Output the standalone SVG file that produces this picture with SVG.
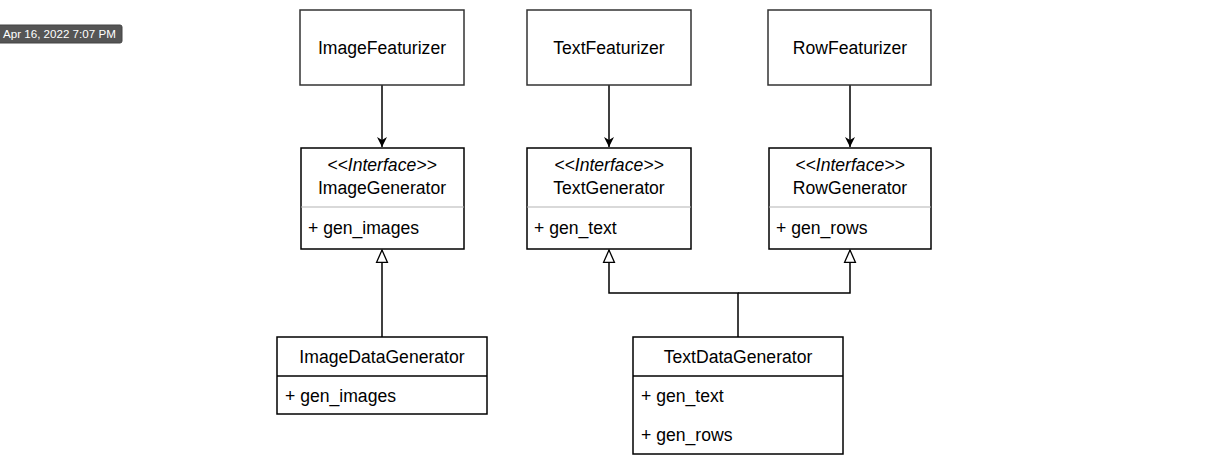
<svg xmlns="http://www.w3.org/2000/svg" width="1217" height="462" viewBox="0 0 1217 462">
<style>
.box{fill:#fff;stroke:#000;stroke-width:1.5}
.feat{fill:#fff;stroke:#333;stroke-width:1.5}
.sepg{stroke:#b3b3b3;stroke-width:1}
.sepb{stroke:#000;stroke-width:1.5}
.t{font-family:"Liberation Sans",Arial,sans-serif;font-size:17.6px;fill:#000}
.c{text-anchor:middle}
.i{font-style:italic}
.edge{fill:none;stroke:#000;stroke-width:1.5}
.badge{font-family:"Liberation Sans",Arial,sans-serif;font-size:11.6px;fill:#fff}
</style>
<defs>
<marker id="arr" markerWidth="12" markerHeight="12" refX="10" refY="5" orient="auto" markerUnits="userSpaceOnUse" viewBox="0 0 12 10">
<path d="M0,0 L10,5 L0,10 L3,5 Z" fill="#000"/>
</marker>
<marker id="tri" markerWidth="16" markerHeight="14" refX="13" refY="6" orient="auto" markerUnits="userSpaceOnUse" viewBox="0 0 16 12">
<path d="M0.5,0.5 L13,6 L0.5,11.5 Z" fill="#fff" stroke="#000" stroke-width="1.3"/>
</marker>
</defs>
<rect width="1217" height="462" fill="#fff"/>
<g id="timestamp">
<rect x="-4" y="25" width="126" height="18" rx="2" fill="#555" stroke="#444" stroke-width="1"/>
<text class="badge" x="3" y="38">Apr 16, 2022 7:07 PM</text>
</g>
<g id="connectors">
<line class="edge" x1="382" y1="85" x2="382" y2="147" marker-end="url(#arr)"/>
<line class="edge" x1="609" y1="85" x2="609" y2="147" marker-end="url(#arr)"/>
<line class="edge" x1="850" y1="85" x2="850" y2="147" marker-end="url(#arr)"/>
<line class="edge" x1="382" y1="337" x2="382" y2="250" marker-end="url(#tri)"/>
<polyline class="edge" points="738,337 738,293 609,293 609,250" marker-end="url(#tri)"/>
<polyline class="edge" points="738,293 850,293 850,250" marker-end="url(#tri)"/>
</g>
<g id="ImageFeaturizer">
<rect class="feat" x="300" y="10" width="164" height="75"/>
<text class="t c" x="382" y="54">ImageFeaturizer</text>
</g>
<g id="TextFeaturizer">
<rect class="feat" x="527" y="10" width="164" height="75"/>
<text class="t c" x="609" y="54">TextFeaturizer</text>
</g>
<g id="RowFeaturizer">
<rect class="feat" x="768" y="10" width="163" height="75"/>
<text class="t c" x="850" y="54">RowFeaturizer</text>
</g>
<g id="ImageGenerator">
<rect class="box" x="301" y="148" width="163" height="101"/>
<text class="t c i" x="382" y="171">&lt;&lt;Interface&gt;&gt;</text>
<text class="t c" x="382" y="194">ImageGenerator</text>
<line class="sepg" x1="301" y1="207" x2="464" y2="207"/>
<text class="t" x="308" y="234">+ gen_images</text>
</g>
<g id="TextGenerator">
<rect class="box" x="527" y="148" width="164" height="101"/>
<text class="t c i" x="609" y="171">&lt;&lt;Interface&gt;&gt;</text>
<text class="t c" x="609" y="194">TextGenerator</text>
<line class="sepg" x1="527" y1="207" x2="691" y2="207"/>
<text class="t" x="534" y="234">+ gen_text</text>
</g>
<g id="RowGenerator">
<rect class="box" x="769" y="148" width="162" height="101"/>
<text class="t c i" x="850" y="171">&lt;&lt;Interface&gt;&gt;</text>
<text class="t c" x="850" y="194">RowGenerator</text>
<line class="sepg" x1="769" y1="207" x2="931" y2="207"/>
<text class="t" x="776" y="234">+ gen_rows</text>
</g>
<g id="ImageDataGenerator">
<rect class="box" x="277" y="337" width="210" height="77"/>
<line class="sepb" x1="277" y1="376" x2="487" y2="376"/>
<text class="t c" x="382" y="363">ImageDataGenerator</text>
<text class="t" x="285" y="402">+ gen_images</text>
</g>
<g id="TextDataGenerator">
<rect class="box" x="633" y="337" width="210" height="117"/>
<line class="sepb" x1="633" y1="376" x2="843" y2="376"/>
<text class="t c" x="738" y="363">TextDataGenerator</text>
<text class="t" x="641" y="402">+ gen_text</text>
<text class="t" x="641" y="441">+ gen_rows</text>
</g>
</svg>
